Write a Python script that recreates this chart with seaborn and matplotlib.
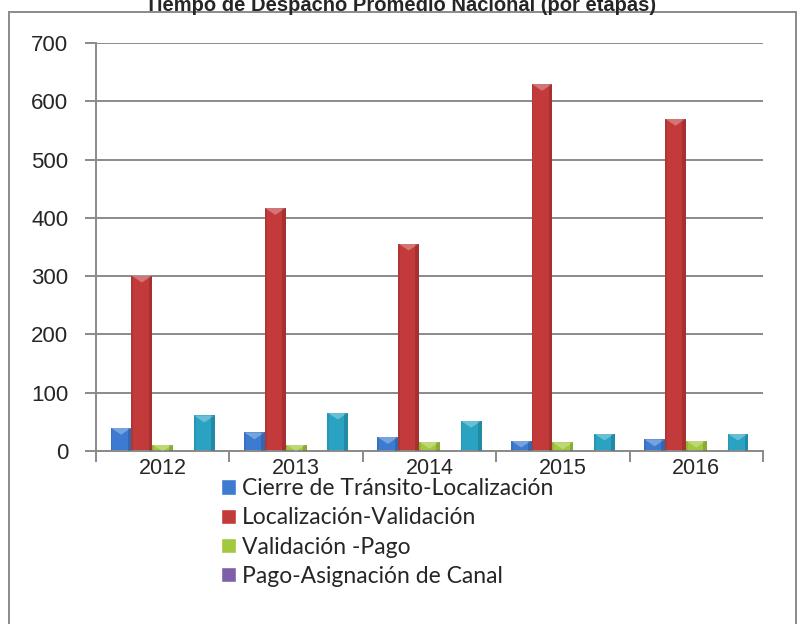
import pandas as pd
import seaborn as sns
import matplotlib.pyplot as plt
from matplotlib.patches import Rectangle, Polygon

# Data
years = ['2012', '2013', '2014', '2015', '2016']
stages = ['Cierre de Tránsito-Localización', 'Localización-Validación',
          'Validación -Pago', 'Pago-Asignación de Canal', 'Asignación de Canal-Retiro']
cierre_localizacion = [40, 32, 24, 18, 20]
localizacion_validacion = [301, 417, 356, 630, 570]
validacion_pago = [11, 11, 16, 15, 18]
pago_asignacion = [0, 0, 0, 0, 0]
asignacion_retiro = [61, 66, 52, 30, 30]
colors = ['#3C7BD0', '#C23A3A', '#A2C83E', '#7E5FAA', '#2AA3C2']

series = [cierre_localizacion, localizacion_validacion, validacion_pago,
          pago_asignacion, asignacion_retiro]
df = pd.DataFrame({
    'Año': years * len(stages),
    'Etapa': [s for s in stages for _ in years],
    'Valor': [v for vals in series for v in vals],
})

sns.set_style('white')
plt.rcParams['font.family'] = ['Liberation Sans', 'DejaVu Sans']

fig = plt.figure(figsize=(8.02, 6.24), dpi=100)
ax = fig.add_axes([96 / 802, 1 - 451 / 624, 667 / 802, 408 / 624])

sns.barplot(data=df, x='Año', y='Valor', hue='Etapa', hue_order=stages,
            palette=colors, width=0.78, gap=0, saturation=1, ax=ax,
            edgecolor='none', legend=False)

# light bevel on top of each bar, like the original 3D look
for p in ax.patches:
    h = p.get_height()
    if h <= 0:
        continue
    x0, w, y1 = p.get_x(), p.get_width(), p.get_y() + h
    bev = min(h, 12)
    ax.add_patch(Polygon([(x0, y1), (x0 + w, y1), (x0 + w / 2, y1 - bev)],
                         closed=True, facecolor='white', alpha=0.3, lw=0, zorder=3))
    ax.add_patch(Rectangle((x0 + w * 0.82, p.get_y()), w * 0.18, h,
                           facecolor='black', alpha=0.15, lw=0, zorder=3))
    ax.add_patch(Rectangle((x0, p.get_y()), w * 0.08, h,
                           facecolor='black', alpha=0.08, lw=0, zorder=3))

ax.set_ylim(0, 700)
ax.set_xlim(-0.5, 4.5)
ax.set_yticks(range(0, 701, 100))
ax.yaxis.grid(True, color='#8A8A8A', lw=1.4)
ax.set_axisbelow(True)
ax.set_xlabel('')
ax.set_ylabel('')
for side in ['top', 'right']:
    ax.spines[side].set_visible(False)
for side in ['left', 'bottom']:
    ax.spines[side].set_color('#8A8A8A')
    ax.spines[side].set_linewidth(1.4)

ax.set_xticks([i - 0.5 for i in range(6)], minor=True)
ax.tick_params(axis='x', which='minor', length=8, width=1.4, color='#8A8A8A',
               direction='out', bottom=True)
ax.tick_params(axis='x', which='major', length=0, labelsize=15.5, pad=5)
ax.tick_params(axis='y', length=8, width=1.4, color='#8A8A8A', direction='out',
               left=True, labelsize=16, pad=12)

# figure frame and cut-off title
fig.patches.append(Rectangle((9 / 802, -0.1), 787 / 802, 1.1 - 12 / 624,
                             transform=fig.transFigure, fill=False,
                             edgecolor='#8A8A8A', lw=1.4))
fig.text(0.5, 1 - 11 / 624, 'Tiempo de Despacho Promedio Nacional (por etapas)',
         ha='center', va='baseline', fontsize=14.5, fontweight='bold')

handles = [Rectangle((0, 0), 1, 1, facecolor=c) for c in colors[:4]]
fig.legend(handles, stages[:4], loc='upper left',
           bbox_to_anchor=(221 / 802, 1 - 478 / 624), frameon=False,
           prop={'family': 'Lato', 'size': 16.5}, handlelength=0.65,
           handleheight=0.65, handletextpad=0.25, labelspacing=0.36,
           borderaxespad=0, borderpad=0)

fig.savefig('out.png', dpi=100)
